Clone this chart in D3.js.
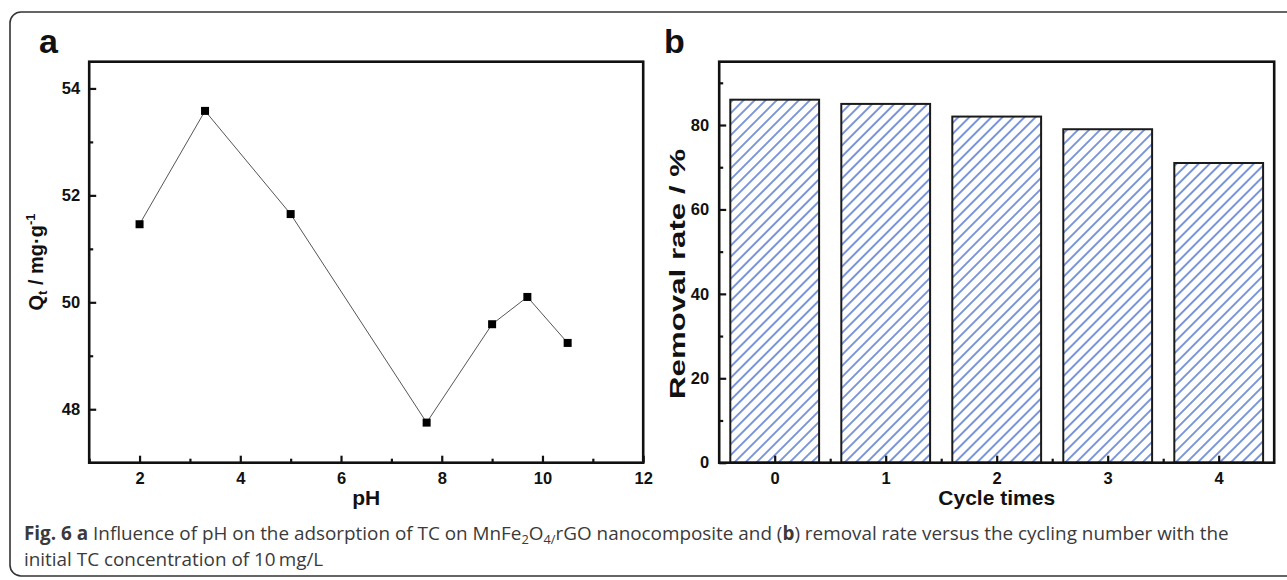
<!DOCTYPE html>
<html><head><meta charset="utf-8">
<script src="https://cdn.jsdelivr.net/npm/d3@7"></script>
<style>body{margin:0;background:#fff;} svg{display:block;}</style>
</head><body>
<svg id="c" width="1287" height="580"></svg>
<script>
// ---- data ----
const phValues = [2, 3.3, 5, 7.7, 9, 9.7, 10.5];
const qtValues = [51.46, 53.58, 51.65, 47.75, 49.59, 50.1, 49.24];
const phTicks = [2, 4, 6, 8, 10, 12];
const phMinorTicks = [1, 3, 5, 7, 9, 11];
const qtTicks = [48, 50, 52, 54];
const qtMinorTicks = [49, 51, 53];
const cycles = [0, 1, 2, 3, 4];
const removalRates = [86, 85, 82, 79, 71];
const removalTicks = [0, 20, 40, 60, 80];
const removalMinorTicks = [10, 30, 50, 70, 90];
const cycleMinorTicks = [0.5, 1.5, 2.5, 3.5];

const svg = d3.select("#c");
const FONT = "'Liberation Sans', Arial, Helvetica, sans-serif";

// outer rounded frame
svg.append("rect").attr("x", 10).attr("y", 12).attr("width", 1320).attr("height", 564)
  .attr("rx", 11).attr("fill", "none").attr("stroke", "#333").attr("stroke-width", 1.6);

const defs = svg.append("defs");
const pat = defs.append("pattern").attr("id", "hatch").attr("patternUnits", "userSpaceOnUse")
  .attr("width", 7.8).attr("height", 7.8).attr("patternTransform", "rotate(45)");
pat.append("line").attr("x1", 3.9).attr("y1", 0).attr("x2", 3.9).attr("y2", 7.8)
  .attr("stroke", "#2450c0").attr("stroke-width", 1.2);

function styleAxis(g) {
  g.select(".domain").remove();
  g.selectAll(".tick line").attr("stroke", "#111").attr("stroke-width", 2.2);
  g.selectAll(".tick text").attr("font-family", FONT).attr("font-weight", "bold")
    .attr("font-size", 16.5).attr("fill", "#111");
}

// ---------- panel a ----------
const ax = d3.scaleLinear().domain([1, 12]).range([89.2, 643.2]);
const ay = d3.scaleLinear().domain([47, 54.5]).range([462.7, 61.7]);

svg.append("g").attr("transform", `translate(0,${ay.range()[0]})`)
  .call(d3.axisBottom(ax).tickValues(phTicks).tickSize(-7).tickPadding(10).tickFormat(d3.format("d")))
  .call(styleAxis);
svg.append("g").attr("transform", `translate(0,${ay.range()[0]})`)
  .call(d3.axisBottom(ax).tickValues(phMinorTicks).tickSize(-4).tickFormat(""))
  .call(styleAxis);
svg.append("g").attr("transform", `translate(${ax.range()[0]},0)`)
  .call(d3.axisLeft(ay).tickValues(qtTicks).tickSize(-7).tickPadding(9).tickFormat(d3.format("d")))
  .call(styleAxis);
svg.append("g").attr("transform", `translate(${ax.range()[0]},0)`)
  .call(d3.axisLeft(ay).tickValues(qtMinorTicks).tickSize(-4).tickFormat(""))
  .call(styleAxis);

const ptsA = phValues.map((v, i) => [v, qtValues[i]]);
svg.append("path").datum(ptsA)
  .attr("d", d3.line().x(d => ax(d[0])).y(d => ay(d[1])))
  .attr("fill", "none").attr("stroke", "#555").attr("stroke-width", 1);
svg.append("g").selectAll("rect").data(ptsA).join("rect")
  .attr("x", d => ax(d[0]) - 4).attr("y", d => ay(d[1]) - 4)
  .attr("width", 8).attr("height", 8).attr("fill", "#000");

svg.append("rect").attr("x", ax.range()[0]).attr("y", ay.range()[1])
  .attr("width", ax.range()[1] - ax.range()[0]).attr("height", ay.range()[0] - ay.range()[1])
  .attr("fill", "none").attr("stroke", "#111").attr("stroke-width", 2.6);

svg.append("text").attr("x", 39).attr("y", 53).text("a")
  .attr("font-family", FONT).attr("font-weight", "bold").attr("font-size", 34).attr("fill", "#111");
svg.append("text").attr("x", (ax.range()[0] + ax.range()[1]) / 2).attr("y", 505).attr("text-anchor", "middle")
  .text("pH").attr("font-family", FONT).attr("font-weight", "bold").attr("font-size", 21).attr("fill", "#111");
const qlab = svg.append("text").attr("transform", "translate(43,262) rotate(-90)").attr("text-anchor", "middle")
  .attr("font-family", FONT).attr("font-weight", "bold").attr("font-size", 20).attr("fill", "#111");
qlab.append("tspan").text("Q");
qlab.append("tspan").text("t").attr("font-size", 13).attr("dy", 4);
qlab.append("tspan").text(" / mg·g").attr("dy", -4);
qlab.append("tspan").text("-1").attr("font-size", 13).attr("dy", -8);

// ---------- panel b ----------
const bx = d3.scaleLinear().domain([-0.5, 4.5]).range([719.2, 1274.2]);
const by = d3.scaleLinear().domain([0, 95]).range([462.7, 61.7]);
const bw = (bx(1) - bx(0)) * 0.8;

const bars = svg.append("g").selectAll("g").data(cycles.map((c, i) => [c, removalRates[i]])).join("g");
bars.append("rect").attr("x", d => bx(d[0]) - bw / 2).attr("y", d => by(d[1]))
  .attr("width", bw).attr("height", d => by(0) - by(d[1])).attr("fill", "#fff");
bars.append("rect").attr("x", d => bx(d[0]) - bw / 2).attr("y", d => by(d[1]))
  .attr("width", bw).attr("height", d => by(0) - by(d[1])).attr("fill", "url(#hatch)")
  .attr("stroke", "#1a1a1a").attr("stroke-width", 2);

svg.append("g").attr("transform", `translate(0,${by.range()[0]})`)
  .call(d3.axisBottom(bx).tickValues(cycles).tickSize(-7).tickPadding(10).tickFormat(d3.format("d")))
  .call(styleAxis);
svg.append("g").attr("transform", `translate(0,${by.range()[0]})`)
  .call(d3.axisBottom(bx).tickValues(cycleMinorTicks).tickSize(-4).tickFormat(""))
  .call(styleAxis);
svg.append("g").attr("transform", `translate(${bx.range()[0]},0)`)
  .call(d3.axisLeft(by).tickValues(removalTicks).tickSize(-7).tickPadding(10).tickFormat(d3.format("d")))
  .call(styleAxis);
svg.append("g").attr("transform", `translate(${bx.range()[0]},0)`)
  .call(d3.axisLeft(by).tickValues(removalMinorTicks).tickSize(-4).tickFormat(""))
  .call(styleAxis);

svg.append("rect").attr("x", bx.range()[0]).attr("y", by.range()[1])
  .attr("width", bx.range()[1] - bx.range()[0]).attr("height", by.range()[0] - by.range()[1])
  .attr("fill", "none").attr("stroke", "#111").attr("stroke-width", 2.6);

svg.append("text").attr("x", 664).attr("y", 53).text("b")
  .attr("font-family", FONT).attr("font-weight", "bold").attr("font-size", 34).attr("fill", "#111");
svg.append("text").attr("x", (bx.range()[0] + bx.range()[1]) / 2).attr("y", 505).attr("text-anchor", "middle")
  .text("Cycle times").attr("font-family", FONT).attr("font-weight", "bold").attr("font-size", 21).attr("fill", "#111");
svg.append("text").attr("transform", "translate(685,274) rotate(-90)").attr("text-anchor", "middle")
  .attr("textLength", 250).attr("lengthAdjust", "spacingAndGlyphs")
  .text("Removal rate / %").attr("font-family", FONT).attr("font-weight", "bold").attr("font-size", 22).attr("fill", "#111");

// ---------- caption ----------
const CAP = "'Open Sans', 'Noto Sans', sans-serif";
const capG = svg.append("g").attr("font-family", CAP).attr("fill", "#3a3a3a");
const l1 = capG.append("text").attr("x", 24).attr("y", 540);
l1.append("tspan").text("Fig. 6 a").attr("font-weight", "bold");
l1.append("tspan").text(" Influence of pH on the adsorption of TC on MnFe");
l1.append("tspan").text("2").attr("class", "sub").attr("dy", 4);
l1.append("tspan").text("O").attr("dy", -4);
l1.append("tspan").text("4").attr("class", "sub").attr("dy", 4);
l1.append("tspan").text("/").attr("class", "sub");
l1.append("tspan").text("rGO nanocomposite and (").attr("dy", -4);
l1.append("tspan").text("b").attr("font-weight", "bold");
l1.append("tspan").text(") removal rate versus the cycling number with the");
capG.append("text").attr("x", 24).attr("y", 566).text("initial TC concentration of 10\u2009mg/L");

function setCap(fs) {
  capG.attr("font-size", fs);
  capG.selectAll(".sub").attr("font-size", fs * 0.68);
}
setCap(16);
const w16 = l1.node().getComputedTextLength();
setCap(16 * 1206 / w16);
</script>
</body></html>
